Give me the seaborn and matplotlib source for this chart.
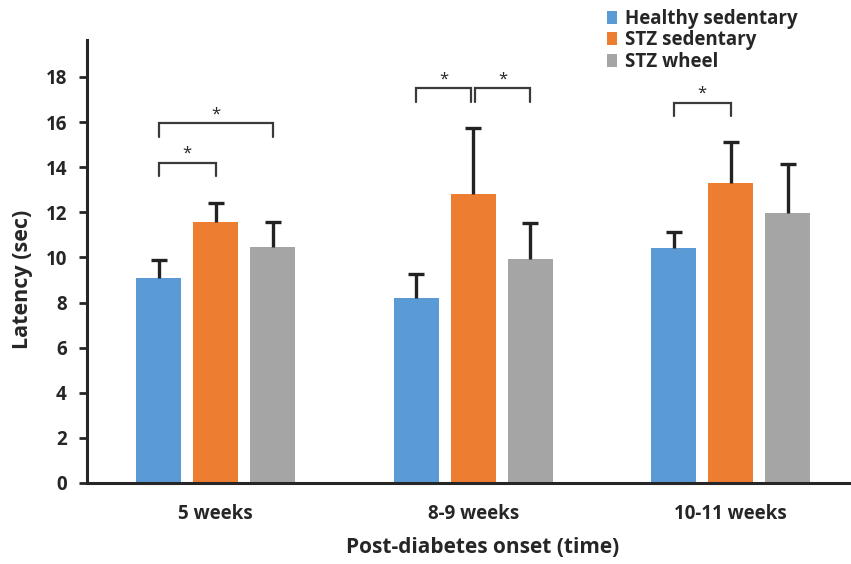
import matplotlib
matplotlib.use("Agg")
import matplotlib.pyplot as plt
import seaborn as sns
import pandas as pd
from matplotlib.patches import Patch

groups = ["5 weeks", "8-9 weeks", "10-11 weeks"]
series = ["Healthy sedentary", "STZ sedentary", "STZ wheel"]
healthy = [9.1, 8.2, 10.42]
stz_sed = [11.55, 12.82, 13.3]
stz_wheel = [10.45, 9.95, 11.97]
healthy_err = [0.8, 1.05, 0.7]
stz_sed_err = [0.87, 2.93, 1.82]
stz_wheel_err = [1.1, 1.57, 2.16]
colors = ["#5B9BD5", "#ED7D31", "#A5A5A5"]
yticks = [0, 2, 4, 6, 8, 10, 12, 14, 16, 18]
# significance brackets: (group index, series a, series b, bracket height)
brackets = [(0, 0, 1, 14.2), (0, 0, 2, 15.95), (1, 0, 1, 17.5), (1, 1, 2, 17.5), (2, 0, 1, 16.85)]

values = [healthy, stz_sed, stz_wheel]
errs = [healthy_err, stz_sed_err, stz_wheel_err]
rows = []
for s, vals in zip(series, values):
    for g, v in zip(groups, vals):
        rows.append({"group": g, "series": s, "value": v})
df = pd.DataFrame(rows)

sns.set_style("white")
plt.rcParams["font.family"] = ["Open Sans", "DejaVu Sans"]
TXT = "#262626"

W, H = 851, 564
fig = plt.figure(figsize=(W / 100, H / 100), dpi=100)
ax_left, ax_right, ax_bottom, ax_top = 87, 851, 483, 40
ax = fig.add_axes([ax_left / W, 1 - ax_bottom / H, (ax_right - ax_left) / W, (ax_bottom - ax_top) / H])

sns.barplot(data=df, x="group", y="value", hue="series", palette=colors, order=groups,
            hue_order=series, width=0.664, gap=0.21, errorbar=None, ax=ax, legend=False,
            edgecolor="none", saturation=1)

bar_containers = list(ax.containers)
centers = []
for i, cont in enumerate(bar_containers):
    cx = [b.get_x() + b.get_width() / 2 for b in cont]
    centers.append(cx)
    eb = ax.errorbar(cx, values[i], yerr=[[0] * len(cx), errs[i]], fmt="none", ecolor="#222222",
                     elinewidth=2.4, capsize=5.5, capthick=2.4, zorder=3)
    caplines = eb[1]
    if len(caplines) == 2:
        caplines[0].set_visible(False)

for g, a, b, y in brackets:
    xa = centers[a][g]
    xb = centers[b][g]
    if g == 1:
        if a == 0:
            xb -= 0.008
        else:
            xa += 0.008
    ax.plot([xa, xa, xb, xb], [y - 0.6, y, y, y - 0.6], color="#3a3a3a", lw=1.6,
            solid_joinstyle="miter", clip_on=False)
    ax.text((xa + xb) / 2, y + 0.22, "*", ha="center", va="baseline", fontsize=12, color=TXT)

ax.set_ylim(0, 19.64)
ax.set_xlim(-0.5, -0.5 + (ax_right - ax_left) / 257.5)
ax.set_yticks(yticks)
ax.set_yticklabels([str(t) for t in yticks], fontsize=13.5, fontweight="bold", color=TXT)
ax.set_xticks(range(len(groups)))
ax.set_xticklabels(groups, fontsize=13.5, fontweight="bold", color=TXT)
ax.tick_params(axis="y", direction="out", length=5.5, width=2, color=TXT, left=True, pad=9)
ax.tick_params(axis="x", length=0, pad=15)
for side in ["top", "right"]:
    ax.spines[side].set_visible(False)
for side in ["left", "bottom"]:
    ax.spines[side].set_color(TXT)
    ax.spines[side].set_linewidth(2.2)
ax.set_xlabel("Post-diabetes onset (time)", fontsize=15, fontweight="bold", color=TXT)
ax.set_ylabel("Latency (sec)", fontsize=15.5, fontweight="bold", color=TXT)
ax.xaxis.set_label_coords((482.5 - ax_left) / (ax_right - ax_left), (ax_bottom - 537) / (ax_bottom - ax_top))
ax.yaxis.set_label_coords((33 - ax_left) / (ax_right - ax_left), (ax_bottom - 279) / (ax_bottom - ax_top))

handles = [Patch(facecolor=c, edgecolor="none") for c in colors]
fig.legend(handles, series, loc="upper left", bbox_to_anchor=(590 / W, 1 + 8 / H), frameon=False,
           handlelength=0.55, handleheight=0.7, handletextpad=0.4, labelspacing=0.08,
           prop={"size": 13.5, "weight": "bold"}, labelcolor=TXT)

fig.savefig("out.png", dpi=100)
